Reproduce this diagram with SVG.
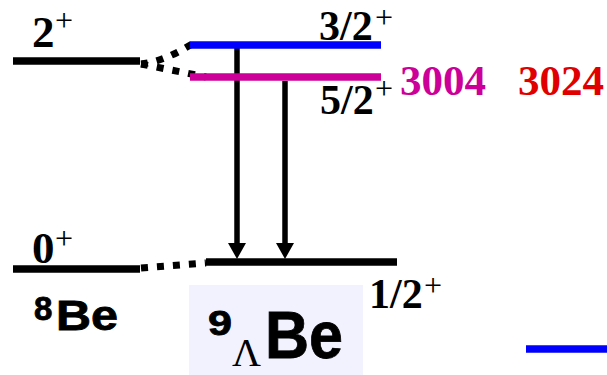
<svg xmlns="http://www.w3.org/2000/svg" width="607" height="375" viewBox="0 0 607 375">
<style>
.lvl{stroke-width:7.5;fill:none}
.blk{stroke:#000}
.dot{stroke:#000;stroke-width:7;fill:none;stroke-dasharray:7 9}
.sv{font-family:"Liberation Serif","Times New Roman",serif;font-weight:bold;font-size:45px;fill:#000}
.fr{font-size:42px}
.pl{font-weight:normal;font-size:32px}
.num{font-family:"Liberation Serif","Times New Roman",serif;font-weight:bold;font-size:43px}
.ss{font-family:"Liberation Sans",Arial,sans-serif;font-weight:bold;fill:#000;stroke:#000;stroke-width:0.8}
.arr{stroke:#000;stroke-width:5.5;fill:none}
</style>
<rect x="189" y="285" width="174" height="90" fill="#F2F2FF"/>
<g id="connectors">
<path class="dot" d="M141 64 Q163 62 192 44"/>
<path class="dot" d="M141 64 L206 77"/>
<path class="dot" d="M141 268 L206 263"/>
<line class="arr" x1="237" y1="48" x2="237" y2="243"/>
<path d="M228 243 L246 243 L237 259 Z" fill="#000"/>
<line class="arr" x1="285" y1="81" x2="285" y2="243"/>
<path d="M276 243 L294 243 L285 259 Z" fill="#000"/>
</g>
<g id="be8-2plus">
<line class="lvl blk" x1="13" y1="61" x2="140" y2="61"/>
<text class="sv" x="32" y="47">2<tspan class="pl" x="55" y="31">+</tspan></text>
</g>
<g id="be8-0plus">
<line class="lvl blk" x1="13" y1="269" x2="140" y2="269"/>
<text class="sv" x="32" y="263">0<tspan class="pl" x="55" y="249">+</tspan></text>
</g>
<g id="be8-label">
<text class="ss" x="34" y="320" font-size="33">8<tspan x="56" y="330" font-size="42" textLength="62" lengthAdjust="spacingAndGlyphs">Be</tspan></text>
</g>
<g id="l9be-3half">
<line class="lvl" stroke="#0000FF" x1="190" y1="45" x2="381" y2="45"/>
<text class="sv fr" x="319" y="40">3/2<tspan class="pl" x="375" y="28">+</tspan></text>
</g>
<g id="l9be-5half">
<line class="lvl" stroke="#CC0099" x1="190" y1="77" x2="381" y2="77"/>
<text class="sv fr" x="320" y="114">5/2<tspan class="pl" x="375" y="99">+</tspan></text>
<text class="num" x="400" y="95" fill="#CC0099">3004</text>
<text class="num" x="518" y="95" fill="#E00000">3024</text>
</g>
<g id="l9be-1half">
<line class="lvl blk" x1="206" y1="262" x2="397" y2="262"/>
<text class="sv fr" x="369" y="308">1/2<tspan class="pl" x="424" y="296">+</tspan></text>
</g>
<g id="l9be-label">
<text class="ss" x="208" y="335" font-size="35" textLength="24" lengthAdjust="spacingAndGlyphs">9</text>
<text x="232" y="366" font-family="'Liberation Serif','Times New Roman',serif" font-size="40" fill="#000">Λ</text>
<text class="ss" x="265" y="358" font-size="66" textLength="78" lengthAdjust="spacingAndGlyphs">Be</text>
</g>
<g id="legend-blue">
<line class="lvl" stroke="#0000FF" x1="526" y1="349" x2="607" y2="349"/>
</g>
</svg>
